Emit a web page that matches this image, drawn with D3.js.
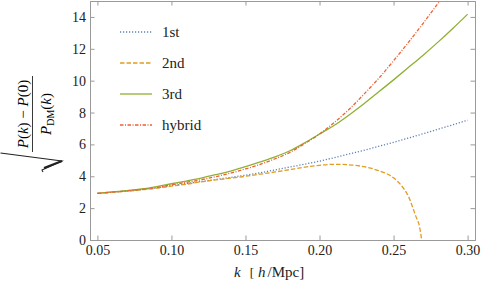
<!DOCTYPE html>
<html>
<head>
<meta charset="utf-8">
<script src="https://cdn.jsdelivr.net/npm/d3@7"></script>
<style>
  body { margin: 0; background: #fff; }
  svg text, svg tspan { font-family: 'Liberation Serif' !important; }
</style>
</head>
<body>
<svg id="chart" width="483" height="287"></svg>
<script>
// k values and the four curves
var kVals = [0.05, 0.06, 0.07, 0.08, 0.09, 0.10, 0.11, 0.12, 0.13, 0.14, 0.15, 0.16, 0.17,
             0.18, 0.19, 0.20, 0.21, 0.22, 0.23, 0.24, 0.25, 0.26, 0.27, 0.28, 0.29, 0.30]
var first  = [2.93, 3.0, 3.07, 3.16, 3.27, 3.41, 3.54, 3.67, 3.8, 3.93, 4.07, 4.22, 4.4,
              4.58, 4.76, 4.95, 5.17, 5.4, 5.63, 5.88, 6.13, 6.4, 6.67, 6.95, 7.23, 7.52]
var third  = [2.93, 3.02, 3.1, 3.2, 3.35, 3.53, 3.7, 3.88, 4.1, 4.33, 4.6, 4.9, 5.22,
              5.6, 6.1, 6.65, 7.2, 7.85, 8.55, 9.3, 10.05, 10.82, 11.6, 12.42, 13.28, 14.17]
var hybrid = [2.93, 3.0, 3.08, 3.18, 3.3, 3.46, 3.62, 3.78, 3.98, 4.2, 4.46, 4.75, 5.1,
              5.5, 6.05, 6.65, 7.38, 8.2, 9.15, 10.15, 11.25, 12.4, 13.6, 14.85, 16.1, 17.4]
// the 2nd-order curve ends where it drops to zero
var kSecond = [0.05, 0.06, 0.07, 0.08, 0.09, 0.10, 0.11, 0.12, 0.13, 0.14, 0.15, 0.16, 0.17,
               0.18, 0.19, 0.20, 0.21, 0.22, 0.23, 0.24, 0.25, 0.255, 0.26, 0.265, 0.2675, 0.269]
var second  = [2.93, 3.0, 3.07, 3.15, 3.25, 3.38, 3.5, 3.65, 3.77, 3.88, 4.0, 4.13, 4.27,
               4.42, 4.57, 4.69, 4.75, 4.72, 4.6, 4.35, 3.9, 3.45, 2.75, 1.5, 0.85, 0]

var xTicks = [0.05, 0.10, 0.15, 0.20, 0.25, 0.30]
var yTicks = [0, 2, 4, 6, 8, 10, 12, 14]
var names = ['1st', '2nd', '3rd', 'hybrid']

var colors = ['#5e81b5', '#e19c24', '#8fb032', '#eb6235']
var dashes = ['1.2,1.8', '4.5,2', null, '3.5,1.5,1,1.5']

var svg = d3.select('#chart')
var m = {left: 90, right: 475, top: 1, bottom: 240}

var x = d3.scaleLinear().domain([0.045, 0.305]).range([m.left, m.right])
var y = d3.scaleLinear().domain([0, 15]).range([m.bottom, m.top])

var series = [
  kVals.map(function (k, i) { return [k, first[i]] }),
  kSecond.map(function (k, i) { return [k, second[i]] }),
  kVals.map(function (k, i) { return [k, third[i]] }),
  kVals.map(function (k, i) { return [k, hybrid[i]] })
]

svg.append('clipPath').attr('id', 'clip')
  .append('rect')
  .attr('x', m.left).attr('y', m.top)
  .attr('width', m.right - m.left).attr('height', m.bottom - m.top)

var line = d3.line()
  .x(function (d) { return x(d[0]) })
  .y(function (d) { return y(d[1]) })
  .curve(d3.curveMonotoneX)

svg.append('g').attr('clip-path', 'url(#clip)')
  .selectAll('path').data(series).enter()
  .append('path')
  .attr('d', line)
  .attr('fill', 'none')
  .attr('stroke', function (d, i) { return colors[i] })
  .attr('stroke-width', 1.3)
  .attr('stroke-dasharray', function (d, i) { return dashes[i] })

// frame with inward ticks on all sides
var tickCol = '#9a9a9a'
var xMinor = d3.range(0.05, 0.3001, 0.01)
var yMinor = d3.range(0, 15.01, 0.5)

function ax(gen, pos, isX, labels) {
  var sc = isX ? x : y
  var g = svg.append('g').attr('transform', pos)
  g.call(gen(sc).tickValues(isX ? xMinor : yMinor).tickSize(-2.5).tickFormat(''))
  g.call(gen(sc).tickValues(isX ? xTicks : yTicks).tickSize(-4.5)
    .tickFormat(labels ? (isX ? d3.format('.2f') : d3.format('d')) : ''))
  g.attr('font-family', 'Liberation Serif')
  g.selectAll('.domain').attr('stroke', tickCol)
  g.selectAll('line').attr('stroke', tickCol)
  g.selectAll('text').attr('font-size', 14).attr('fill', '#222')
  return g
}

var gx = ax(d3.axisBottom, 'translate(0,' + m.bottom + ')', true, true)
gx.selectAll('text').attr('dy', '0.71em').attr('y', 5)
ax(d3.axisTop, 'translate(0,' + m.top + ')', true, false)
var gy = ax(d3.axisLeft, 'translate(' + m.left + ',0)', false, true)
gy.selectAll('text').attr('x', -4)
ax(d3.axisRight, 'translate(' + m.right + ',0)', false, false)

// legend
var leg = svg.append('g')
names.forEach(function (n, i) {
  var ly = 32 + i * 31
  leg.append('line')
    .attr('x1', 120).attr('x2', 152).attr('y1', ly).attr('y2', ly)
    .attr('stroke', colors[i]).attr('stroke-width', 1.3)
    .attr('stroke-dasharray', dashes[i])
  leg.append('text').attr('x', 162).attr('y', ly + 5)
    .attr('font-size', 15).attr('fill', '#222').text(n)
})

// x axis title
var xt = svg.append('text').attr('x', 234).attr('y', 277).attr('font-size', 15).attr('fill', '#222')
xt.append('tspan').attr('font-style', 'italic').text('k')
xt.append('tspan').attr('dx', 9).attr('font-size', 13).text('[')
xt.append('tspan').attr('dx', 4).attr('font-style', 'italic').text('h')
xt.append('tspan').attr('dx', 2).text('/Mpc]')

// y axis title: rotated square root of a fraction
var yl = svg.append('g').attr('transform', 'translate(0,114) rotate(-90)')
var num = yl.append('text').attr('x', 0).attr('y', 28).attr('text-anchor', 'middle').attr('font-size', 15)
num.append('tspan').attr('font-style', 'italic').text('P')
num.append('tspan').text('(')
num.append('tspan').attr('font-style', 'italic').text('k')
num.append('tspan').text(') − ')
num.append('tspan').attr('font-style', 'italic').text('P')
num.append('tspan').text('(0)')
yl.append('line').attr('x1', -38).attr('x2', 38).attr('y1', 32.5).attr('y2', 32.5)
  .attr('stroke', '#222').attr('stroke-width', 0.9)
var den = yl.append('text').attr('x', 0).attr('y', 51).attr('text-anchor', 'middle').attr('font-size', 15)
den.append('tspan').attr('font-style', 'italic').text('P')
den.append('tspan').attr('font-size', 10).attr('dy', 3).text('DM')
den.append('tspan').attr('dy', -3).text('(')
den.append('tspan').attr('font-style', 'italic').text('k')
den.append('tspan').text(')')
// radical sign
yl.append('path')
  .attr('d', 'M-39,0.5 L-47,62 L-56,42 L-58,43')
  .attr('fill', 'none').attr('stroke', '#222').attr('stroke-width', 1.1)
yl.append('path')
  .attr('d', 'M-47,62 L-54,44').attr('stroke', '#222').attr('stroke-width', 2)

svg.selectAll('text').attr('font-family', 'Liberation Serif').style('font-family', 'Liberation Serif')
</script>
</body>
</html>
